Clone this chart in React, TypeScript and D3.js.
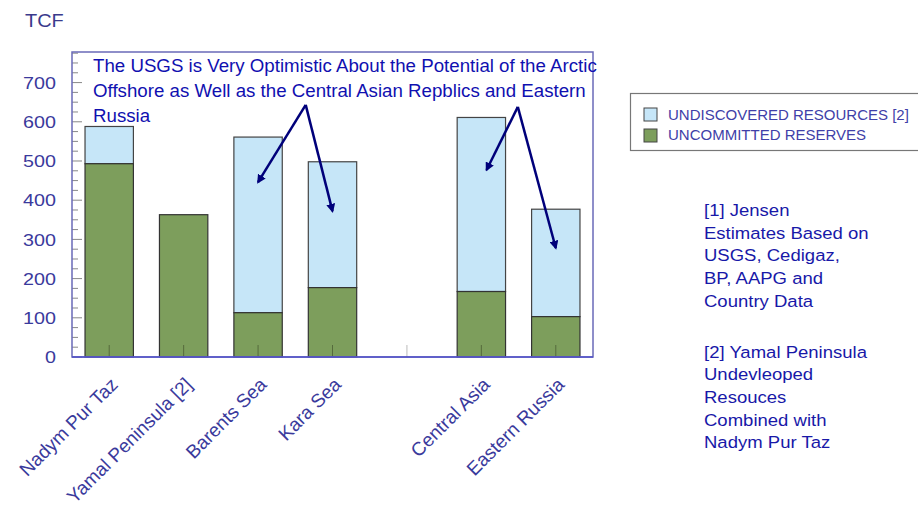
import React from "react";
import * as d3 from "d3";

// Gas resources by region, TCF
const categories = ["Nadym Pur Taz", "Yamal Peninsula [2]", "Barents Sea", "Kara Sea", "", "Central Asia", "Eastern Russia"];
const reserves = [493, 363, 113, 177, 0, 167, 103];
const undiscovered = [95, 0, 448, 321, 0, 444, 274];
const yTicks = [0, 100, 200, 300, 400, 500, 600, 700];
const legendLabels = ["UNDISCOVERED RESOURCES [2]", "UNCOMMITTED RESERVES"];
const titleLines = [
  "The USGS is Very Optimistic About the Potential of the Arctic",
  "Offshore as Well as the Central Asian Repblics and Eastern",
  "Russia",
];
const note1 = ["[1] Jensen", "Estimates Based on", "USGS, Cedigaz,", "BP, AAPG and", "Country Data"];
const note2 = ["[2] Yamal Peninsula", "Undevleoped", "Resouces", "Combined with", "Nadym Pur Taz"];

// arrows: apex (category position, value) and heads (category position, value)
const arrowGroups = [
  { from: [2.64, 643], to: [[2.0, 446], [3.0, 372]] },
  { from: [5.49, 638], to: [[5.07, 477], [6.0, 278]] },
];

const W = 918;
const H = 508;
const M = { left: 72, top: 52, right: 593, bottom: 357 };
const BLUE = "#c6e6f8";
const GREEN = "#7d9e5c";
const FONT = "Arial, 'Liberation Sans', sans-serif";

export default function App() {
  const x = d3
    .scaleBand<number>()
    .domain(d3.range(categories.length))
    .range([M.left, M.right])
    .paddingInner(0.35)
    .paddingOuter(0.175);
  const y = d3.scaleLinear().domain([0, 778]).range([M.bottom, M.top]);
  const cx = (i: number) => (x(i) as number) + x.bandwidth() / 2;
  const step = x.step();
  const cxf = (f: number) => M.left + step * (f + 0.5);
  const minor = d3.range(0, 776, 25);

  return (
    <svg width={W} height={H} style={{ position: "absolute", left: 0, top: 0, background: "#fff" }} fontFamily={FONT}>
      <defs>
        <marker id="ah" viewBox="0 0 10 10" refX="8" refY="5" markerWidth="3.6" markerHeight="3.6" orient="auto">
          <path d="M0,0 L10,5 L0,10 z" fill="#00007a" />
        </marker>
      </defs>
      <text transform="translate(25,27) scale(1.05,1)" fontSize={19} fill="#3a3a8c">TCF</text>

      {/* y ticks */}
      {minor.map((v) => (
        <line key={"m" + v} x1={M.left} x2={M.left + (v % 100 === 0 ? 10 : 6)} y1={y(v)} y2={y(v)} stroke="#888" strokeWidth={1} />
      ))}
      {yTicks.map((v) => (
        <text
          key={"t" + v}
          transform={`translate(56,${y(v)}) scale(1.16,1)`}
          dy="0.36em"
          textAnchor="end"
          fontSize={17}
          fill="#3a3a9c"
        >
          {v}
        </text>
      ))}

      {/* bars */}
      {categories.map((c, i) =>
        reserves[i] + undiscovered[i] > 0 ? (
          <g key={"b" + i}>
            {undiscovered[i] > 0 && (
              <rect
                x={x(i)}
                width={x.bandwidth()}
                y={y(reserves[i] + undiscovered[i])}
                height={y(reserves[i]) - y(reserves[i] + undiscovered[i])}
                fill={BLUE}
                stroke="#444"
                strokeWidth={1.2}
              />
            )}
            <rect
              x={x(i)}
              width={x.bandwidth()}
              y={y(reserves[i])}
              height={y(0) - y(reserves[i])}
              fill={GREEN}
              stroke="#333"
              strokeWidth={1.2}
            />
          </g>
        ) : null
      )}

      {/* category ticks */}
      {categories.map((c, i) => (
        <line key={"ct" + i} x1={cx(i)} x2={cx(i)} y1={M.bottom} y2={M.bottom - 12} stroke={c ? "#556b3c" : "#bbb"} strokeWidth={1} />
      ))}

      {/* frame */}
      <rect x={M.left} y={M.top} width={M.right - M.left} height={M.bottom - M.top} fill="none" stroke="#6a6ab8" strokeWidth={1.5} />
      <line x1={M.left} x2={M.right} y1={M.bottom} y2={M.bottom} stroke="#5050c8" strokeWidth={1.5} />

      {/* category labels */}
      {categories.map((c, i) => (
        <text
          key={"cl" + i}
          transform={`translate(${cx(i) + 5},${M.bottom + 24}) rotate(-45)`}
          textAnchor="end"
          dy="0.35em"
          fontSize={19}
          fill="#3a3a9c"
        >
          {c}
        </text>
      ))}

      {/* annotation */}
      {titleLines.map((t, i) => (
        <text key={"ti" + i} x={93} y={65 + i * 25} dy="0.35em" fontSize={18.7} fill="#1010b0">
          {t}
        </text>
      ))}
      {arrowGroups.map((g, gi) =>
        g.to.map((t, ti) => (
          <line
            key={"a" + gi + ti}
            x1={cxf(g.from[0])}
            y1={y(g.from[1])}
            x2={cxf(t[0])}
            y2={y(t[1])}
            stroke="#00007a"
            strokeWidth={2.5}
            markerEnd="url(#ah)"
          />
        ))
      )}

      {/* legend */}
      <rect x={630.5} y={93.5} width={300} height={57} fill="#fff" stroke="#777" strokeWidth={1.2} />
      {legendLabels.map((l, i) => (
        <g key={"lg" + i}>
          <rect x={644} y={108 + i * 21} width={13} height={13} fill={i === 0 ? BLUE : GREEN} stroke="#444" strokeWidth={1} />
          <text x={668} y={114.5 + i * 20.5} dy="0.35em" fontSize={15} fill="#4040a8">
            {l}
          </text>
        </g>
      ))}

      {/* notes */}
      {note1.map((t, i) => (
        <text key={"n1" + i} transform={`translate(704,${210 + i * 22.7}) scale(1.09,1)`} dy="0.35em" fontSize={17} fill="#1818a8">
          {t}
        </text>
      ))}
      {note2.map((t, i) => (
        <text key={"n2" + i} transform={`translate(704,${351.7 + i * 22.7}) scale(1.09,1)`} dy="0.35em" fontSize={17} fill="#1818a8">
          {t}
        </text>
      ))}
    </svg>
  );
}
